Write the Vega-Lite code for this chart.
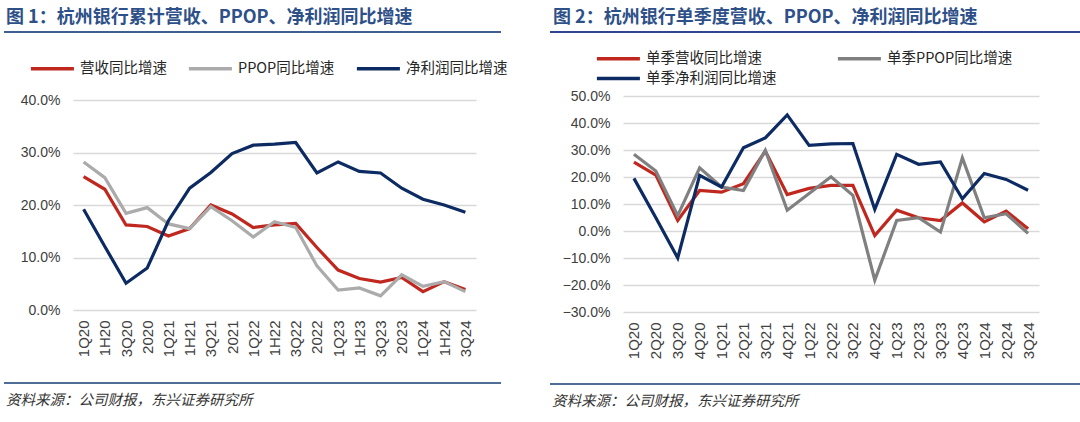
{
  "$schema": "https://vega.github.io/schema/vega-lite/v6.json",
  "padding": {"left": 3, "top": 9, "right": 0, "bottom": 0},
  "autosize": {"type": "pad"},
  "background": "white",
  "config": {
    "view": {"stroke": null},
    "axis": {"domain": false, "ticks": false, "labelColor": "#404040", "gridColor": "#D9D9D9", "gridWidth": 1.3, "title": null, "labelFont": "Liberation Sans"},
    "legend": {"labelFont": "Noto Sans CJK SC", "labelFontSize": 14.5, "labelColor": "#262626", "symbolType": "M-1,0H4", "symbolSize": 296, "symbolStrokeWidth": 3.5, "labelOffset": 30, "labelLimit": 300, "title": null}
  },
  "datasets": {
    "cum": [
      {"p": "1Q20", "营收同比增速": 25.4, "PPOP同比增速": 28.2, "净利润同比增速": 19.2},
      {"p": "1H20", "营收同比增速": 23.0, "PPOP同比增速": 25.2, "净利润同比增速": 12.1},
      {"p": "3Q20", "营收同比增速": 16.2, "PPOP同比增速": 18.4, "净利润同比增速": 5.1},
      {"p": "2020", "营收同比增速": 15.9, "PPOP同比增速": 19.5, "净利润同比增速": 8.0},
      {"p": "1Q21", "营收同比增速": 14.1, "PPOP同比增速": 16.4, "净利润同比增速": 17.0},
      {"p": "1H21", "营收同比增速": 15.5, "PPOP同比增速": 15.5, "净利润同比增速": 23.2},
      {"p": "3Q21", "营收同比增速": 20.0, "PPOP同比增速": 19.7, "净利润同比增速": 26.2},
      {"p": "2021", "营收同比增速": 18.3, "PPOP同比增速": 17.0, "净利润同比增速": 29.8},
      {"p": "1Q22", "营收同比增速": 15.7, "PPOP同比增速": 13.9, "净利润同比增速": 31.4},
      {"p": "1H22", "营收同比增速": 16.2, "PPOP同比增速": 16.8, "净利润同比增速": 31.6},
      {"p": "3Q22", "营收同比增速": 16.5, "PPOP同比增速": 15.7, "净利润同比增速": 31.9},
      {"p": "2022", "营收同比增速": 11.9, "PPOP同比增速": 8.4, "净利润同比增速": 26.1},
      {"p": "1Q23", "营收同比增速": 7.6, "PPOP同比增速": 3.8, "净利润同比增速": 28.2},
      {"p": "1H23", "营收同比增速": 6.0, "PPOP同比增速": 4.2, "净利润同比增速": 26.4},
      {"p": "3Q23", "营收同比增速": 5.3, "PPOP同比增速": 2.7, "净利润同比增速": 26.1},
      {"p": "2023", "营收同比增速": 6.2, "PPOP同比增速": 6.7, "净利润同比增速": 23.2},
      {"p": "1Q24", "营收同比增速": 3.5, "PPOP同比增速": 4.5, "净利润同比增速": 21.1},
      {"p": "1H24", "营收同比增速": 5.4, "PPOP同比增速": 5.4, "净利润同比增速": 20.0},
      {"p": "3Q24", "营收同比增速": 3.9, "PPOP同比增速": 3.5, "净利润同比增速": 18.6}
    ],
    "q": [
      {"p": "1Q20", "单季营收同比增速": 25.5, "单季PPOP同比增速": 28.4, "单季净利润同比增速": 19.5},
      {"p": "2Q20", "单季营收同比增速": 20.7, "单季PPOP同比增速": 22.2, "单季净利润同比增速": 4.9},
      {"p": "3Q20", "单季营收同比增速": 3.9, "单季PPOP同比增速": 5.7, "单季净利润同比增速": -10.0},
      {"p": "4Q20", "单季营收同比增速": 15.0, "单季PPOP同比增速": 23.4, "单季净利润同比增速": 20.6},
      {"p": "1Q21", "单季营收同比增速": 14.4, "单季PPOP同比增速": 16.3, "单季净利润同比增速": 16.3},
      {"p": "2Q21", "单季营收同比增速": 17.5, "单季PPOP同比增速": 15.0, "单季净利润同比增速": 30.8},
      {"p": "3Q21", "单季营收同比增速": 29.6, "单季PPOP同比增速": 29.9, "单季净利润同比增速": 34.5},
      {"p": "4Q21", "单季营收同比增速": 13.5, "单季PPOP同比增速": 7.7, "单季净利润同比增速": 43.0},
      {"p": "1Q22", "单季营收同比增速": 15.8, "单季PPOP同比增速": 13.9, "单季净利润同比增速": 31.7},
      {"p": "2Q22", "单季营收同比增速": 16.9, "单季PPOP同比增速": 20.1, "单季净利润同比增速": 32.3},
      {"p": "3Q22", "单季营收同比增速": 16.9, "单季PPOP同比增速": 13.2, "单季净利润同比增速": 32.4},
      {"p": "4Q22", "单季营收同比增速": -1.7, "单季PPOP同比增速": -18.2, "单季净利润同比增速": 8.0},
      {"p": "1Q23", "单季营收同比增速": 7.7, "单季PPOP同比增速": 3.9, "单季净利润同比增速": 28.4},
      {"p": "2Q23", "单季营收同比增速": 4.9, "单季PPOP同比增速": 4.9, "单季净利润同比增速": 24.7},
      {"p": "3Q23", "单季营收同比增速": 3.9, "单季PPOP同比增速": -0.4, "单季净利润同比增速": 25.6},
      {"p": "4Q23", "单季营收同比增速": 10.4, "单季PPOP同比增速": 27.1, "单季净利润同比增速": 11.9},
      {"p": "1Q24", "单季营收同比增速": 3.4, "单季PPOP同比增速": 4.9, "单季净利润同比增速": 21.3},
      {"p": "2Q24", "单季营收同比增速": 7.4, "单季PPOP同比增速": 6.4, "单季净利润同比增速": 19.1},
      {"p": "3Q24", "单季营收同比增速": 0.8, "单季PPOP同比增速": -0.9, "单季净利润同比增速": 15.1}
    ]
  },
  "spacing": 41,
  "resolve": {"scale": {"color": "independent", "x": "independent", "y": "independent"}, "legend": {"color": "independent"}},
  "hconcat": [
    {
      "spacing": 25,
      "resolve": {"scale": {"color": "independent", "x": "independent", "y": "independent"}, "legend": {"color": "independent"}},
      "vconcat": [
        {
          "width": 497, "height": 1,
          "data": {"values": [{}]},
          "title": {"text": "图 1：杭州银行累计营收、PPOP、净利润同比增速", "anchor": "start", "frame": "group", "dx": 2, "offset": 4, "font": "Noto Sans CJK SC", "fontSize": 18, "fontWeight": "bold", "color": "#2E5088"},
          "mark": {"type": "rule", "color": "#3F5E92", "strokeWidth": 2},
          "encoding": {
            "x": {"datum": 0, "type": "quantitative", "scale": {"domain": [0, 1]}, "axis": null},
            "x2": {"datum": 1},
            "y": {"datum": 0, "type": "quantitative", "scale": {"domain": [0, 1]}, "axis": null}
          }
        },
        {
          "spacing": 15,
          "resolve": {"scale": {"color": "independent"}, "legend": {"color": "independent"}},
          "hconcat": [
            {"width": 1, "height": 1, "data": {"values": []}, "mark": "point"},
            {
              "width": 403, "height": 210,
              "data": {"name": "cum"},
              "transform": [{"fold": ["营收同比增速", "PPOP同比增速", "净利润同比增速"], "as": ["series", "v"]}],
              "mark": {"type": "line", "strokeWidth": 3.2},
              "encoding": {
                "x": {"field": "p", "type": "ordinal", "sort": null, "scale": {"type": "point", "padding": 0.5},
                      "axis": {"labelAngle": 270, "labelFontSize": 15, "labelPadding": 10, "grid": false}},
                "y": {"field": "v", "type": "quantitative", "scale": {"domain": [0, 40], "nice": false},
                      "axis": {"values": [0, 10, 20, 30, 40], "labelExpr": "format(datum.value, '.1f') + '%'", "labelFontSize": 14, "labelPadding": 13}},
                "color": {"field": "series", "type": "nominal",
                          "scale": {"domain": ["营收同比增速", "PPOP同比增速", "净利润同比增速"], "range": ["#C0281F", "#ABABAB", "#0D2B63"]},
                          "legend": {"orient": "none", "legendX": -44, "legendY": -42, "direction": "horizontal", "columnPadding": 14}}
              }
            }
          ]
        },
        {
          "width": 497, "height": 1,
          "data": {"values": [{}]},
          "title": {"text": "资料来源：公司财报，东兴证券研究所", "orient": "bottom", "anchor": "start", "frame": "group", "dx": 2, "offset": 10, "font": "Noto Sans CJK SC", "fontSize": 14.5, "fontStyle": "italic", "fontWeight": "normal", "color": "#333333"},
          "mark": {"type": "rule", "color": "#4E6E98", "strokeWidth": 2},
          "encoding": {
            "x": {"datum": 0, "type": "quantitative", "scale": {"domain": [0, 1]}, "axis": null},
            "x2": {"datum": 1},
            "y": {"datum": 0, "type": "quantitative", "scale": {"domain": [0, 1]}, "axis": null}
          }
        }
      ]
    },
    {
      "spacing": 15,
      "resolve": {"scale": {"color": "independent", "x": "independent", "y": "independent"}, "legend": {"color": "independent"}},
      "vconcat": [
        {
          "width": 531, "height": 1,
          "data": {"values": [{}]},
          "title": {"text": "图 2：杭州银行单季度营收、PPOP、净利润同比增速", "anchor": "start", "frame": "group", "dx": 3, "offset": 4, "font": "Noto Sans CJK SC", "fontSize": 18, "fontWeight": "bold", "color": "#2E5088"},
          "mark": {"type": "rule", "color": "#2F4590", "strokeWidth": 2},
          "encoding": {
            "x": {"datum": 0, "type": "quantitative", "scale": {"domain": [0, 1]}, "axis": null},
            "x2": {"datum": 1},
            "y": {"datum": 0, "type": "quantitative", "scale": {"domain": [0, 1]}, "axis": null}
          }
        },
        {
          "spacing": 11,
          "resolve": {"scale": {"color": "independent"}, "legend": {"color": "independent"}},
          "hconcat": [
            {"width": 1, "height": 1, "data": {"values": []}, "mark": "point"},
            {
              "width": 416, "height": 216,
              "data": {"name": "q"},
              "transform": [{"fold": ["单季营收同比增速", "单季PPOP同比增速", "单季净利润同比增速"], "as": ["series", "v"]}],
              "mark": {"type": "line", "strokeWidth": 3.2},
              "encoding": {
                "x": {"field": "p", "type": "ordinal", "sort": null, "scale": {"type": "point", "padding": 0.5},
                      "axis": {"labelAngle": 270, "labelFontSize": 15, "labelPadding": 10, "grid": false}},
                "y": {"field": "v", "type": "quantitative", "scale": {"domain": [-30, 50], "nice": false},
                      "axis": {"values": [-30, -20, -10, 0, 10, 20, 30, 40, 50], "labelExpr": "format(datum.value, '.1f') + '%'", "labelFontSize": 14, "labelPadding": 13}},
                "color": {"field": "series", "type": "nominal",
                          "scale": {"domain": ["单季营收同比增速", "单季PPOP同比增速", "单季净利润同比增速"], "range": ["#C0281F", "#808080", "#0D2B63"]},
                          "legend": {"orient": "none", "legendX": -28, "legendY": -48, "direction": "horizontal", "columns": 2, "columnPadding": 53, "rowPadding": 2}}
              }
            }
          ]
        },
        {
          "width": 531, "height": 10,
          "data": {"values": [{}]},
          "title": {"text": "资料来源：公司财报，东兴证券研究所", "orient": "bottom", "anchor": "start", "frame": "group", "dx": 2, "offset": 10, "font": "Noto Sans CJK SC", "fontSize": 14.5, "fontStyle": "italic", "fontWeight": "normal", "color": "#333333"},
          "mark": {"type": "rule", "color": "#4E6E98", "strokeWidth": 2},
          "encoding": {
            "x": {"datum": 0, "type": "quantitative", "scale": {"domain": [0, 1]}, "axis": null},
            "x2": {"datum": 1},
            "y": {"datum": 0, "type": "quantitative", "scale": {"domain": [0, 1]}, "axis": null}
          }
        }
      ]
    }
  ]
}
